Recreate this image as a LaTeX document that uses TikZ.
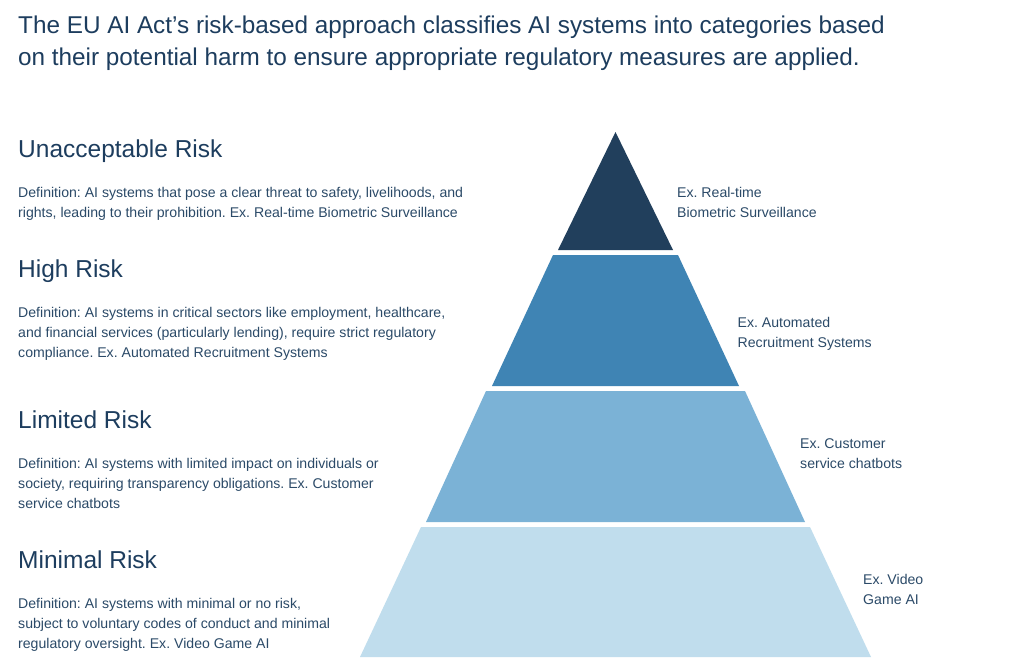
\documentclass[tikz,border=0pt]{standalone}
\usepackage{fontspec}
\setmainfont{Liberation Sans}
\frenchspacing
\definecolor{navy}{HTML}{1D3D5E}
\definecolor{bodyc}{HTML}{2B4A68}
\definecolor{tierA}{HTML}{213F5C}
\definecolor{tierB}{HTML}{3F84B4}
\definecolor{tierC}{HTML}{7BB2D6}
\definecolor{tierD}{HTML}{C0DDED}
\begin{document}
\begin{tikzpicture}[x=1pt,y=-1pt,
  titletext/.style={anchor=base west, inner sep=0pt, align=left, text=navy, font=\fontsize{24.3}{31.5}\selectfont},
  heading/.style={anchor=base west, inner sep=0pt, text=navy, font=\fontsize{24.5}{28}\selectfont},
  bodytext/.style={anchor=base west, inner sep=0pt, align=left, text=bodyc, font=\fontsize{14.1}{20}\selectfont}]
\useasboundingbox (0,0) rectangle (1024,667);
\fill[white] (0,0) rectangle (1024,667);

% title (anchor = baseline of last line)
\node[titletext] (title) at (18,65) {The EU AI Act's risk-based approach classifies AI systems into categories based\\on their potential harm to ensure appropriate regulatory measures are applied.};

% pyramid tiers
\coordinate (apex) at (615.5,132);
\fill[tierA] (apex) -- (673,250) -- (558,250) -- cycle;
\fill[tierB] (553,255) -- (678,255) -- (739,386) -- (492,386) -- cycle;
\fill[tierC] (486,391) -- (745,391) -- (805,522) -- (426,522) -- cycle;
\fill[tierD] (421,527) -- (810,527) -- (871,657) -- (360,657) -- cycle;

% left column (body anchors = baseline of last line)
\node[heading] (h1) at (18,157) {Unacceptable Risk};
\node[bodytext] (d1) at (18,217) {Definition: AI systems that pose a clear threat to safety, livelihoods, and\\rights, leading to their prohibition. Ex. Real-time Biometric Surveillance};
\node[heading] (h2) at (18,277) {High Risk};
\node[bodytext] (d2) at (18,357) {Definition: AI systems in critical sectors like employment, healthcare,\\and financial services (particularly lending), require strict regulatory\\compliance. Ex. Automated Recruitment Systems};
\node[heading] (h3) at (18,428) {Limited Risk};
\node[bodytext] (d3) at (18,508) {Definition: AI systems with limited impact on individuals or\\society, requiring transparency obligations. Ex. Customer\\service chatbots};
\node[heading] (h4) at (18,568) {Minimal Risk};
\node[bodytext] (d4) at (18,648) {Definition: AI systems with minimal or no risk,\\subject to voluntary codes of conduct and minimal\\regulatory oversight. Ex. Video Game AI};

% right labels
\node[bodytext] (e1) at (677,217) {Ex. Real-time\\Biometric Surveillance};
\node[bodytext] (e2) at (737.5,347) {Ex. Automated\\Recruitment Systems};
\node[bodytext] (e3) at (800,468) {Ex. Customer\\service chatbots};
\node[bodytext] (e4) at (863,604) {Ex. Video\\Game AI};
\end{tikzpicture}
\end{document}
